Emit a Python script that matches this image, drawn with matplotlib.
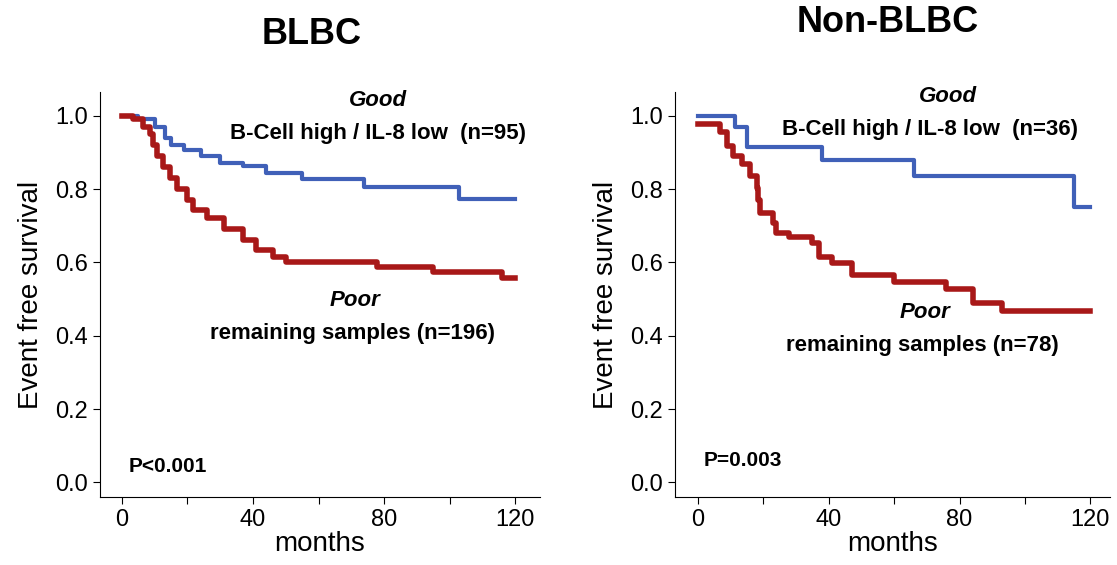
import matplotlib
matplotlib.use("Agg")
import matplotlib.pyplot as plt

plt.rcParams['font.family'] = ['Liberation Sans', 'DejaVu Sans']

blbc_good_t = [0, 5, 10, 13, 15, 19, 24, 30, 37, 44, 55, 74, 103, 120]
blbc_good_s = [1.0, 0.99, 0.97, 0.94, 0.92, 0.907, 0.89, 0.87, 0.862, 0.845, 0.828, 0.807, 0.773, 0.773]
blbc_poor_t = [0, 3.4, 6.4, 8.6, 9.5, 10.6, 12.5, 14.7, 16.8, 19.8, 21.7, 26, 31, 37, 41, 46, 50, 78, 95, 116, 120]
blbc_poor_s = [1.0, 0.99, 0.97, 0.95, 0.92, 0.89, 0.86, 0.83, 0.80, 0.77, 0.743, 0.72, 0.69, 0.66, 0.634, 0.616, 0.60, 0.588, 0.575, 0.557, 0.557]
non_good_t = [0, 11.3, 15, 38, 66, 115, 120]
non_good_s = [1.0, 0.97, 0.915, 0.88, 0.835, 0.75, 0.75]
non_poor_t = [0, 6.7, 8.8, 10.8, 13.4, 16, 18, 18.5, 19, 23, 24, 28, 35, 37, 41, 47, 60, 76, 84, 93, 120]
non_poor_s = [0.978, 0.955, 0.917, 0.89, 0.868, 0.835, 0.804, 0.77, 0.735, 0.708, 0.68, 0.67, 0.653, 0.614, 0.598, 0.565, 0.546, 0.528, 0.49, 0.468, 0.468]

titles = ["BLBC", "Non-BLBC"]
good_labels = ["B-Cell high / IL-8 low  (n=95)", "B-Cell high / IL-8 low  (n=36)"]
poor_labels = ["remaining samples (n=196)", "remaining samples (n=78)"]
pvals = ["P<0.001", "P=0.003"]

BLUE = "#4060b8"
RED = "#a81818"

fig = plt.figure(figsize=(11.17, 5.65), dpi=100)
W, H = 1117, 565
axes_px = [(100, 540), (675, 1110)]
data = [(blbc_good_t, blbc_good_s, blbc_poor_t, blbc_poor_s),
        (non_good_t, non_good_s, non_poor_t, non_poor_s)]
xlims = [(-6.7, 127.6), (-7.0, 126.0)]
title_pos = [(312, 35), (888, 22)]
good_pos = [((378, 101), (378, 133)), ((948, 97), (930, 129))]
poor_pos = [((355, 300), (352, 333)), ((925, 312), (922, 346))]
p_pos = [(168, 466), (743, 460)]

for i in range(2):
    x0, x1 = axes_px[i]
    ax = fig.add_axes([x0 / W, 1 - 497 / H, (x1 - x0) / W, 405 / H])
    gt, gs, pt, ps = data[i]
    ax.step(gt, gs, where='post', color=BLUE, lw=3)
    ax.step(pt, ps, where='post', color=RED, lw=4)
    ax.set_xlim(*xlims[i])
    ax.set_ylim(-0.04, 1.065)
    for s in ['top', 'right']:
        ax.spines[s].set_visible(False)
    ax.set_xticks([0, 20, 40, 60, 80, 100, 120])
    ax.set_xticklabels(['0', '', '40', '', '80', '', '120'])
    ax.set_yticks([0, 0.2, 0.4, 0.6, 0.8, 1.0])
    ax.set_yticklabels(['0.0', '0.2', '0.4', '0.6', '0.8', '1.0'])
    ax.tick_params(labelsize=17, direction='out', length=5)
    ax.set_xlabel("months", fontsize=20, labelpad=0)
    ax.set_ylabel("Event free survival", fontsize=20, labelpad=8)
    tx, ty = title_pos[i]
    fig.text(tx / W, 1 - ty / H, titles[i], fontsize=26, fontweight='bold', ha='center', va='center')
    (a, b), (c, d) = good_pos[i]
    fig.text(a / W, 1 - b / H, "Good", fontsize=16, fontweight='bold', style='italic', ha='center', va='center')
    fig.text(c / W, 1 - d / H, good_labels[i], fontsize=16, fontweight='bold', ha='center', va='center')
    (a, b), (c, d) = poor_pos[i]
    fig.text(a / W, 1 - b / H, "Poor", fontsize=16, fontweight='bold', style='italic', ha='center', va='center')
    fig.text(c / W, 1 - d / H, poor_labels[i], fontsize=16, fontweight='bold', ha='center', va='center')
    a, b = p_pos[i]
    fig.text(a / W, 1 - b / H, pvals[i], fontsize=15, fontweight='bold', ha='center', va='center')

fig.savefig("out.png", dpi=100)
